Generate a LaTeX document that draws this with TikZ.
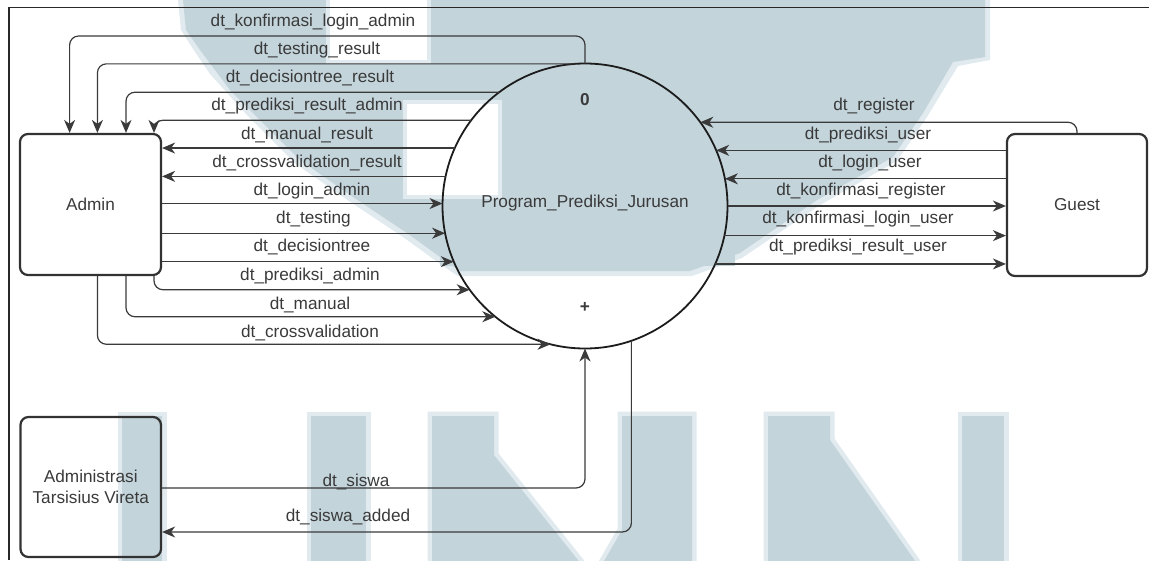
\documentclass[tikz,border=0pt]{standalone}
\usepackage{fontspec}
\setmainfont{Liberation Sans}
\usetikzlibrary{arrows.meta}

\definecolor{wm}{RGB}{195,212,219}
\definecolor{wmedge}{RGB}{225,234,238}
\definecolor{linec}{RGB}{58,58,58}
\definecolor{boxc}{RGB}{50,50,50}
\definecolor{circc}{RGB}{28,28,28}
\definecolor{textc}{RGB}{58,58,58}
\definecolor{framec}{RGB}{40,40,40}

\begin{document}
\begin{tikzpicture}[x=1pt,y=-1pt,
  wmshape/.style={fill=wm, preaction={draw=wmedge, line width=9pt, line join=miter}},
  entity/.style={draw=boxc, line width=2.2pt, rounded corners=8pt, inner sep=0pt,
                 align=center, text=textc, font=\fontsize{17.2}{20.6}\selectfont},
  flow/.style={draw=linec, line width=1.2pt, rounded corners=9pt,
               -{Stealth[length=13pt,width=11pt,inset=4pt]}},
  lbl/.style={inner sep=0pt, text=textc, text height=12.5pt, text depth=3.5pt,
              font=\fontsize{17.2}{20.6}\selectfont},
]
\useasboundingbox (0,0) rectangle (1149,560);

% ---- pale logo and letters in the background ----
\begin{scope}
  \clip (0,0) rectangle (1149,560);
  % upper part of the logo
  \fill[wmedge] (178,0) -- (990,0) -- (990,60) -- (958,66) -- (927,117) -- (897,161)
    -- (820,205) -- (742,258) -- (692,276) -- (458,276) -- (443,266) -- (403,237)
    -- (349,201) -- (296,164) -- (246,114) -- (210,74) -- (195,52) -- (181,30) -- cycle;
  \fill[wm] (183,0) -- (985,0) -- (985,57) -- (953,62) -- (923,113) -- (893,157)
    -- (817,200) -- (740,253) -- (690,271) -- (460,271) -- (447,262) -- (407,233)
    -- (353,197) -- (300,160) -- (275,135) -- (250,110) -- (230,90) -- (215,70)
    -- (200,50) -- (186,30) -- cycle;
  \fill[wm] (440,60) rectangle (735,266);
  \fill[wmedge] (326,0) rectangle (431,64);
  \fill[white] (330,0) rectangle (427,60);
  \fill[wmedge] (403,100) rectangle (502,199);
  \fill[white] (407,104) rectangle (498,195);
  % U
  \path[wmshape] (122,416) rectangle (162,575);
  \path[wmshape] (311,416) rectangle (366,575);
  % M
  \path[wmshape] (432,416) -- (494,416) -- (494,455) -- (590,575) -- (432,575) -- cycle;
  \path[wmshape] (622,416) -- (692,416) -- (692,575) -- (596,575) -- (622,530) -- cycle;
  % N
  \path[wmshape] (768,416) -- (830,416) -- (830,440) -- (925,575) -- (768,575) -- cycle;
  \path[wmshape] (962,416) rectangle (1004,575);
\end{scope}

% ---- page frame ----
\draw[framec, line width=1.5pt] (1149,7.5) -- (9,7.5) -- (9,560);

% ---- entities and process ----
\node[entity, minimum width=141pt, minimum height=141pt] (admin) at (90.5,204.5) {Admin};
\node[entity, minimum width=140pt, minimum height=142pt] (guest) at (1077,205) {Guest};
\node[entity, minimum width=140.5pt, minimum height=140pt] (adm) at (90.75,487)
  {Administrasi\\Tarsisius Vireta};

\node[draw=circc, line width=1.8pt, circle, minimum size=285pt, inner sep=0pt,
      outer sep=0pt] (proc) at (585,206) {};
\node[lbl, font=\fontsize{17.2}{20.6}\selectfont\bfseries] (pnum) at (585,101) {0};
\node[lbl] (pname) at (585,203) {Program\_Prediksi\_Jurusan};
\node[lbl, font=\fontsize{17.2}{20.6}\selectfont\bfseries] (pplus) at (585,308) {+};

% ---- routing columns and rows ----
\coordinate (c1) at (69.6,36);
\coordinate (c2) at (97.4,0);
\coordinate (c3) at (126,0);
\coordinate (c4) at (154,0);
\coordinate (c5) at (1077,0);
\coordinate (s1) at (0,488);
\coordinate (s2) at (0,532);

% ---- flows between the process and Admin ----
\draw[flow] (proc.north) |- (c1) -- (c1 |- admin.north);
\draw[flow] (proc.94.7) -| (c2 |- admin.north);
\draw[flow] (proc.127.3) -| (c3 |- admin.north);
\draw[flow] (proc.143.4) -| (c4 |- admin.north);
\draw[flow] (proc.156.4) -- (proc.156.4 -| admin.east);
\draw[flow] (proc.168.5) -- (proc.168.5 -| admin.east);
\draw[flow] (proc.179.6 -| admin.east) -- (proc.179.6);
\draw[flow] (proc.191.3 -| admin.east) -- (proc.191.3);
\draw[flow] (proc.203.1 -| admin.east) -- (proc.203.1);
\draw[flow] (c4 |- admin.south) |- (proc.216.1);
\draw[flow] (c3 |- admin.south) |- (proc.231.8);
\draw[flow] (c2 |- admin.south) |- (proc.256);

\node[lbl] (l1)  at (313,21.7) {dt\_konfirmasi\_login\_admin};
\node[lbl] (l2)  at (317,50)   {dt\_testing\_result};
\node[lbl] (l3)  at (310,78)   {dt\_decisiontree\_result};
\node[lbl] (l4)  at (307,106)  {dt\_prediksi\_result\_admin};
\node[lbl] (l5)  at (307,135)  {dt\_manual\_result};
\node[lbl] (l6)  at (307,163)  {dt\_crossvalidation\_result};
\node[lbl] (l7)  at (312,191)  {dt\_login\_admin};
\node[lbl] (l8)  at (313.5,219) {dt\_testing};
\node[lbl] (l9)  at (312,247)  {dt\_decisiontree};
\node[lbl] (l10) at (310,276)  {dt\_prediksi\_admin};
\node[lbl] (l11) at (310,305)  {dt\_manual};
\node[lbl] (l12) at (310,333)  {dt\_crossvalidation};

% ---- flows between the process and Guest ----
\draw[flow] (c5 |- guest.north) |- (proc.36.27);
\draw[flow] (proc.23.58 -| guest.west) -- (proc.23.58);
\draw[flow] (proc.11.33 -| guest.west) -- (proc.11.33);
\draw[flow] (proc.0) -- (proc.0 -| guest.west);
\draw[flow] (proc.348.67) -- (proc.348.67 -| guest.west);
\draw[flow] (proc.336.86) -- (proc.336.86 -| guest.west);

\node[lbl] (r1) at (874,106) {dt\_register};
\node[lbl] (r2) at (868,135) {dt\_prediksi\_user};
\node[lbl] (r3) at (870,163) {dt\_login\_user};
\node[lbl] (r4) at (861,191) {dt\_konfirmasi\_register};
\node[lbl] (r5) at (858,219) {dt\_konfirmasi\_login\_user};
\node[lbl] (r6) at (858,247) {dt\_prediksi\_result\_user};

% ---- flows between the process and Administrasi ----
\draw[flow] (adm.east |- s1) -| (proc.south);
\draw[flow] (proc.289.26) |- (adm.east |- s2);

\node[lbl] (b1) at (356,481.5) {dt\_siswa};
\node[lbl] (b2) at (348,517)   {dt\_siswa\_added};
\end{tikzpicture}
\end{document}
